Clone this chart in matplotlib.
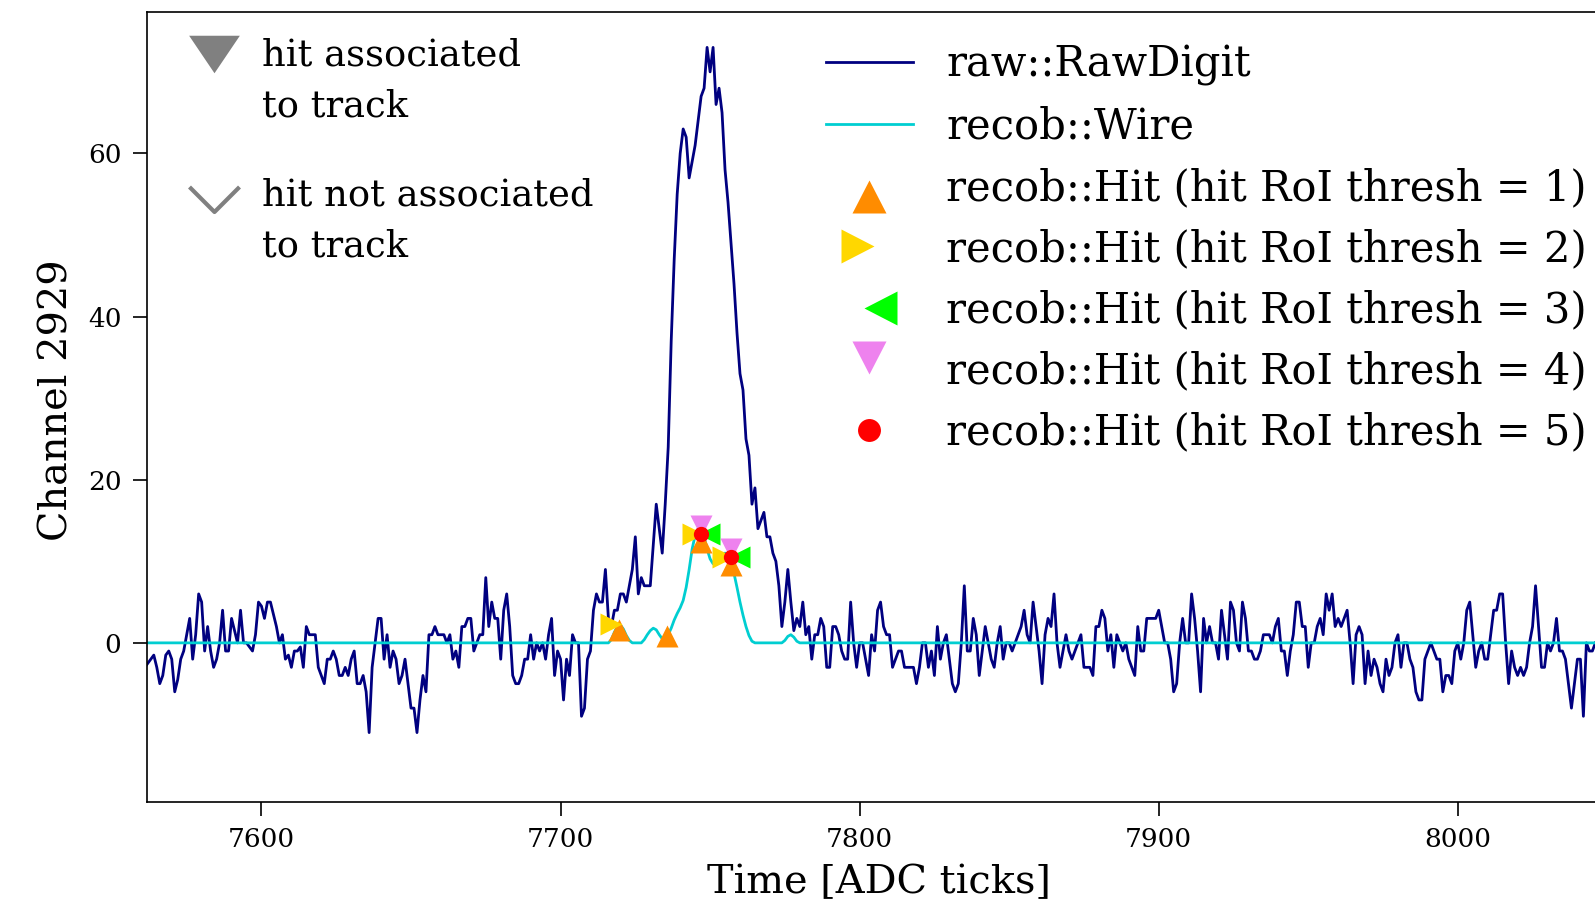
import numpy as np
import matplotlib
matplotlib.use('Agg')
import matplotlib.pyplot as plt
from matplotlib.markers import MarkerStyle
from matplotlib.path import Path
from matplotlib.transforms import Affine2D

plt.rcParams['font.family'] = ['DejaVu Serif']

# raw::RawDigit, one value per ADC tick, starting at tick 7561
raw_start = 7561
raw_values = [
    -3, -2.5, -2, -1.5, -3, -5, -4, -1.5, -1, -2,        # 7561
    -6, -4.5, -2, -1, 1, 3, -2, 1, 6, 5,                 # 7571
    -1, 2, -1, -3, -2, 0, 4, -1, -1, 3,                  # 7581
    1.5, 0, 4, 0, 0, -0.5, -1, 1, 5, 4.5,                # 7591
    3, 5, 5, 3.5, 2, 0, 1, -2, -1.5, -3,                 # 7601
    -1, -1, -0.5, -3, 2, 1, 1, 1, -3, -4,                # 7611
    -5, -2, -2, -1, -2, -4, -4, -3, -4, -2,              # 7621
    -1, -5, -5, -4, -6, -11, -3, 0, 3, 3,                # 7631
    -2, 1, -3, -1, -2, -5, -4, -2, -5, -8,               # 7641
    -8, -11, -7, -4, -6, 1, 1, 2, 1, 1,                  # 7651
    1, 0, 1, -2, -1, -3, 2, 2, 3, 3,                     # 7661
    -1, 0, 1, 1, 8, 2, 5, 3, 3, -2,                      # 7671
    4, 6, 2, -4, -5, -5, -4, -2, -2, 1,                  # 7681
    -2, 0, -1, 0, -2, 1, 3, -4, -1, -2,                  # 7691
    -7, -2, -4, 1, 0, 0, -9, -8, -2, -1,                 # 7701
    4, 6, 5, 5, 9, 3, 2, 4, 4, 6,                        # 7711
    6, 5, 7, 9, 13, 6, 8, 7, 7, 7,                       # 7721
    12, 17, 14, 11, 17, 24, 37, 47, 55, 60,              # 7731
    63, 62, 57, 59, 61, 64, 67, 68, 73, 70,              # 7741
    73, 66, 68, 65, 58, 54, 49, 44, 38, 33,              # 7751
    31, 25, 23, 17, 19, 14, 15, 16, 13, 13,              # 7761
    11, 10, 7, 2, 5, 9, 5, 1.5, 3, 2,                    # 7771
    5, 1, 2, -2, 1, 1, 3, 2, -3, -3,                     # 7781
    2, 2, 1, -1, -2, -2, 5, 0, -3, 0,                    # 7791
    0, -2, -4, 1, -1, 4, 5, 2, 1, 1,                     # 7801
    -3, -2, -1, -1, -3, -3, -3, -3, -5, -3,              # 7811
    0, 0, -3, -1, -4, 2, -2, 0, 1, -2,                   # 7821
    -5, -6, -5, 0, 7, -1, -1, 3, 1, -4,                  # 7831
    -1, 2, 0, -2, -3, 0, 2, -2, 0, 0,                    # 7841
    -1, 0, 1, 2, 4, 1, 0, 5, 2, -1,                      # 7851
    -5, 1, 3, 2, 6, 0, -3, -1, 1, -1,                    # 7861
    -2, -1, 0, 1, -3, -3, -3, -4, 2, 2,                  # 7871
    4, 3, -1, 1, -3, 1, 0, -1, 0, -2,                    # 7881
    -3, -4, 2, -1, -1, 3, 3, 3, 3, 4,                    # 7891
    2, 0, 0, -2, -6, -5, 0, 3, 0, 0,                     # 7901
    6, 3, -1, -6, 3, 0, 2, 0, 0, -2,                     # 7911
    4, 1, -2, 5, 4, 0, -1, 5, 3, -1,                     # 7921
    -1, -2, -2, -1, 1, 1, 1, 0, 2, 3,                    # 7931
    -1, -1, -4, -1, 1, 5, 5, 2, 2, -3,                   # 7941
    0, 0, 2, 3, 1, 6, 4, 6, 2, 3,                        # 7951
    2, 3, 4, 0, -5, 1, 2, 1, -5, -1,                     # 7961
    -4, -2, -3, -5, -6, -2, -4, -3, 0, 1,                # 7971
    -3, 0, 0, -2, -3, -6, -7, -7, -2, -1,                # 7981
    0, -1, -2, -2, -6, -4, -4, -5, -1, 0,                # 7991
    -2, 0, 4, 5, 1, -3, -1, 0, -2, -2,                   # 8001
    1, 4, 4, 6, 6, 0, -5, -1, -3, -4,                    # 8011
    -3, -4, -3, 0, 2, 7, 2, -3, -3, 0,                   # 8021
    -1, 0, 3, -1, -1, -2, -5, -8, -5, -2,                # 8031
    -2, -9, 0, -1, -1, 0,                                # 8041
]

# recob::Wire, zero outside the region of interest starting at tick 7715
wire_start = 7715
wire_roi = [
    0, 0, 0.4, 1.3, 2.0, 2.2, 1.7, 0.9, 0.3, 0,          # 7715
    0, 0, 0, 0.4, 1.0, 1.5, 1.8, 1.6, 1.0, 0.5,          # 7725
    0.5, 1.0, 1.8, 2.8, 3.6, 4.3, 5.2, 6.8, 9.0, 11.5,   # 7735
    13.2, 14.0, 14.0, 13.0, 11.5, 10.3, 9.7, 9.6, 10.0, 10.7,  # 7745
    11.0, 10.9, 10.0, 8.5, 6.8, 5.0, 3.4, 2.0, 0.9, 0.2, # 7755
    0, 0, 0, 0, 0, 0, 0, 0, 0, 0,                        # 7765
    0.3, 0.8, 1.0, 0.7, 0.2, 0,                          # 7775
]

# recob::Hit peak times and amplitudes for each hit RoI threshold
hit_thresholds = [1, 2, 3, 4, 5]
hit_times = [
    [7719.5, 7735.5, 7747.0, 7756.9],
    [7719.5, 7747.0, 7756.9],
    [7747.0, 7756.9],
    [7747.0, 7756.9],
    [7747.0, 7756.9],
]
hit_amps = [
    [2.6, 1.8, 13.3, 10.5],
    [2.3, 13.3, 10.5],
    [13.3, 10.5],
    [13.3, 10.5],
    [13.3, 10.5],
]
hit_colors = ['darkorange', 'gold', 'lime', 'violet', 'red']

channel = 2929

raw_ticks = raw_start + np.arange(len(raw_values))
wire_values = np.zeros(len(raw_values))
i0 = wire_start - raw_start
wire_values[i0:i0 + len(wire_roi)] = wire_roi

# markers pushed off the hit position so the thresholds sit round it
off = 0.35
hit_markers = [
    MarkerStyle('^', transform=Affine2D().translate(0, -off)),
    MarkerStyle('>', transform=Affine2D().translate(-off, 0)),
    MarkerStyle('<', transform=Affine2D().translate(off, 0)),
    MarkerStyle('v', transform=Affine2D().translate(0, off)),
    MarkerStyle('o'),
]
hit_sizes = [16, 16, 16, 16, 11]

W, H = 1595, 908
fig = plt.figure(figsize=(W / 100, H / 100), dpi=100)
ax_l, ax_r, ax_t, ax_b = 146.5, 1611.0, 12.0, 801.6
ax = fig.add_axes([ax_l / W, 1 - ax_b / H, (ax_r - ax_l) / W, (ax_b - ax_t) / H])

ax.plot(raw_ticks, raw_values, color='navy', lw=2, label='raw::RawDigit')
ax.plot(raw_ticks, wire_values, color='darkturquoise', lw=2, label='recob::Wire')
for thr, t, a, c, m, s in zip(hit_thresholds, hit_times, hit_amps, hit_colors,
                              hit_markers, hit_sizes):
    ax.plot(t, a, ls='none', marker=m, color=c, markersize=s, mec='none',
            label=f'recob::Hit (hit RoI thresh = {thr})')

ax.set_xlim(7561.56, 7561.56 + (ax_r - ax_l) / 2.9908)
ax.set_ylim(-19.46, 77.34)
ax.set_xticks([7600, 7700, 7800, 7900, 8000])
ax.set_yticks([0, 20, 40, 60])
ax.tick_params(labelsize=19, length=10, width=1.2, pad=8, direction='out')
for sp in ax.spines.values():
    sp.set_linewidth(1.2)
ax.set_xlabel('Time [ADC ticks]', fontsize=28.7, labelpad=9)
ax.set_ylabel(f'Channel {channel}', fontsize=28.7, labelpad=9, y=0.508)

leg = ax.legend(loc='upper left', bbox_to_anchor=(826 / W, 1 - 44 / H),
                bbox_transform=fig.transFigure, frameon=False, fontsize=30,
                borderpad=0, borderaxespad=0, handlelength=2.08,
                handletextpad=0.81, labelspacing=0.46, markerscale=1.5)

# key for track association, drawn by hand in the upper left
def to_ax(px, py):
    return (px - ax_l) / (ax_r - ax_l), (ax_b - py) / (ax_b - ax_t)

flat_down = Path([(-1, 0.74), (1, 0.74), (0, -0.74), (-1, 0.74)],
                 [Path.MOVETO, Path.LINETO, Path.LINETO, Path.CLOSEPOLY])
chevron = Path([(-1, 0.5), (0, -0.5), (1, 0.5)],
               [Path.MOVETO, Path.LINETO, Path.LINETO])
x0, y0 = to_ax(213.6, 54.4)
ax.plot([x0], [y0], marker=flat_down, color='gray', markersize=36.5, mec='none',
        transform=ax.transAxes, clip_on=False)
x0, y0 = to_ax(213.6, 199.4)
ax.plot([x0], [y0], marker=chevron, color='gray', markersize=36, mfc='none',
        mew=3, transform=ax.transAxes, clip_on=False)
tx, ty = to_ax(262.4, 80.8)
ax.text(tx, ty, 'hit associated\nto track', fontsize=26.6, va='center',
        ha='left', linespacing=1.52, transform=ax.transAxes)
tx, ty = to_ax(262.4, 221.2)
ax.text(tx, ty, 'hit not associated\nto track', fontsize=26.6, va='center',
        ha='left', linespacing=1.52, transform=ax.transAxes)

fig.savefig('out.png', dpi=100)
